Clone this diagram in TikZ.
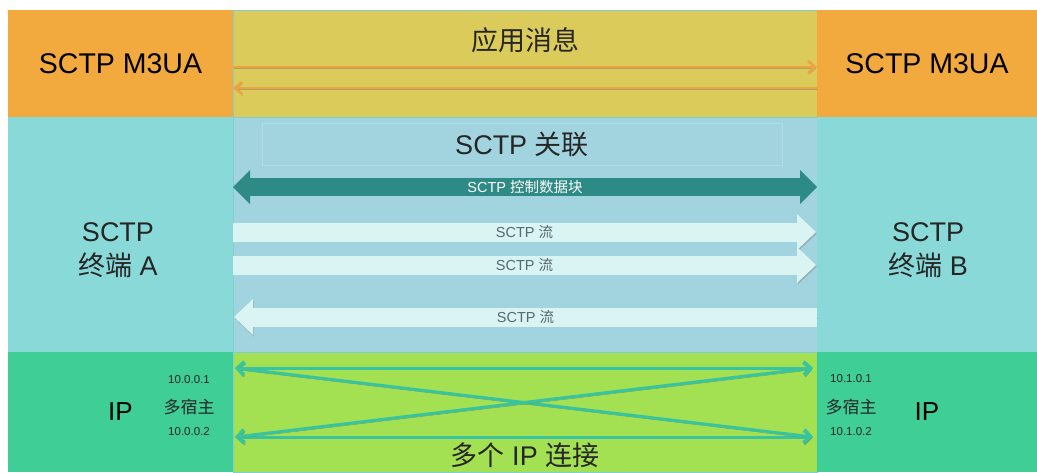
\documentclass[tikz,border=0pt]{standalone}
\usepackage{fontspec}
\setmainfont{Liberation Sans}
\newfontfamily\cjk{Noto Sans CJK SC}
\usetikzlibrary{arrows.meta,positioning}
\definecolor{m3uabg}{HTML}{F2AA3E}
\definecolor{msgbg}{HTML}{DBCB5B}
\definecolor{endbg}{HTML}{88D9D7}
\definecolor{assocbg}{HTML}{A2D4DF}
\definecolor{assocline}{HTML}{B0DCE6}
\definecolor{ctrlc}{HTML}{2E8A85}
\definecolor{streamc}{HTML}{DAF3F3}
\definecolor{streamtxt}{HTML}{56696D}
\definecolor{ipbg}{HTML}{3FCE95}
\definecolor{linkbg}{HTML}{A3E052}
\definecolor{linkc}{HTML}{37C49E}
\definecolor{msgc}{HTML}{EFA244}
\definecolor{edgec}{HTML}{7ECFD2}

\begin{document}
\begin{tikzpicture}[x=1pt,y=-1pt,
  region/.style={inner sep=0pt,outer sep=0pt,anchor=north west},
  bigtxt/.style={font=\fontsize{27}{34}\selectfont,text=black!85,inner sep=0pt},
  addr/.style={font=\fontsize{11.5}{13}\selectfont,text=black!85,inner sep=0pt},
  home/.style={font=\cjk\fontsize{17}{19}\selectfont,text=black!85,inner sep=0pt},
  shade/.style={preaction={draw=#1,transform canvas={shift={(0.8pt,-1.6pt)}}}},
  msgarr/.style={draw=msgc,line width=2.6pt,shade=olive!70!black!60,
                 -{Straight Barb[length=7pt,width=12pt]}},
  ctrlarr/.style={draw=ctrlc,line width=18pt,
                  {Triangle[length=17pt,width=34pt,line width=0pt]}-{Triangle[length=17pt,width=34pt,line width=0pt]}},
  streamarr/.style={draw=streamc,line width=19pt,shade=teal!40!gray!60,
                    -{Triangle[length=19pt,width=36pt,line width=0pt]}},
  streamtxt/.style={font=\fontsize{14.5}{16}\selectfont,text=streamtxt,inner sep=0pt},
  linkarr/.style={draw=linkc,line width=3pt,shade=green!30!black!60,
                  {Straight Barb[length=7pt,width=13pt]}-{Straight Barb[length=7pt,width=13pt]}}
]
\useasboundingbox (0,0) rectangle (1037,472);

% layers
\node[region,fill=m3uabg,minimum width=225pt,minimum height=107pt] (m3uaL) at (8,10)
  {\fontsize{28.5}{30}\selectfont SCTP M3UA};
\node[region,fill=msgbg,draw=edgec,line width=0.8pt,minimum width=584pt,minimum height=107pt] (msg) at (233,10) {};
\node[region,fill=m3uabg,minimum width=220pt,minimum height=107pt] (m3uaR) at (817,10)
  {\fontsize{28.5}{30}\selectfont SCTP M3UA};

\node[region,fill=endbg,minimum width=225pt,minimum height=235pt] (endA) at (8,117) {};
\node[region,fill=assocbg,draw=edgec,line width=0.8pt,minimum width=584pt,minimum height=235pt] (assoc) at (233,117) {};
\node[region,fill=endbg,minimum width=220pt,minimum height=235pt] (endB) at (817,117) {};

\node[region,fill=ipbg,minimum width=225pt,minimum height=120pt] (ipL) at (8,352)
  {\fontsize{26}{30}\selectfont IP};
\node[region,fill=linkbg,draw=edgec,line width=0.8pt,minimum width=584pt,minimum height=120pt] (links) at (233,352) {};
\node[region,fill=ipbg,minimum width=220pt,minimum height=120pt] (ipR) at (817,352)
  {\fontsize{26}{30}\selectfont IP};

% labels
\node[bigtxt] (msgtxt) at (525,40) {\cjk 应用消息};
\node[bigtxt,align=center] (endAtxt) at (118,250) {SCTP\\{\cjk 终端} A};
\node[bigtxt,align=center] (endBtxt) at (928,250) {SCTP\\{\cjk 终端} B};
\node[bigtxt,draw=assocline,line width=0.8pt,minimum width=520pt,minimum height=42pt] (assoctxt) at (522,144)
  {SCTP {\cjk 关联}};
\node[bigtxt] (linkstxt) at (525,455) {{\cjk 多个} IP {\cjk 连接}};

\node[addr] (ipa1) at (189,380) {10.0.0.1};
\node[home] (homeA) at (189,407) {多宿主};
\node[addr] (ipa2) at (189,432) {10.0.0.2};
\node[addr] (ipb1) at (851,379) {10.1.0.1};
\node[home] (homeB) at (851,407) {多宿主};
\node[addr] (ipb2) at (851,432) {10.1.0.2};

% application messages
\draw[msgarr] ([yshift=-3.5pt]m3uaL.east) -- ([yshift=-3.5pt]m3uaR.west);
\draw[msgarr] ([yshift=-24.5pt]m3uaR.west) -- ([yshift=-24.5pt]m3uaL.east);

% association
\draw[ctrlarr] ([yshift=47.5pt]endA.east) -- node[font=\fontsize{14.5}{16}\selectfont,text=white,inner sep=0pt] (ctrltxt)
  {SCTP {\cjk 控制数据块}} ([yshift=47.5pt]endB.west);
\draw[streamarr] ([yshift=2.5pt]endA.east) -- node[streamtxt] (s1txt) {SCTP {\cjk 流}} ([yshift=2.5pt,xshift=-1pt]endB.west);
\draw[streamarr] ([yshift=-30.5pt]endA.east) -- node[streamtxt] (s2txt) {SCTP {\cjk 流}} ([yshift=-30.5pt,xshift=-1pt]endB.west);
\draw[streamarr] ([yshift=-82.5pt]endB.west) -- node[streamtxt] (s3txt) {SCTP {\cjk 流}} ([yshift=-82.5pt,xshift=1pt]endA.east);

% multi-homed paths
\coordinate (a1) at ([xshift=2pt,yshift=44pt]ipL.east);
\coordinate (a2) at ([xshift=2pt,yshift=-25pt]ipL.east);
\coordinate (b1) at ([xshift=-4pt,yshift=44pt]ipR.west);
\coordinate (b2) at ([xshift=-4pt,yshift=-25pt]ipR.west);
\draw[linkarr] (a1) -- (b1);
\draw[linkarr] (a2) -- (b2);
\draw[linkarr] (a1) -- (b2);
\draw[linkarr] (a2) -- (b1);
\end{tikzpicture}
\end{document}
